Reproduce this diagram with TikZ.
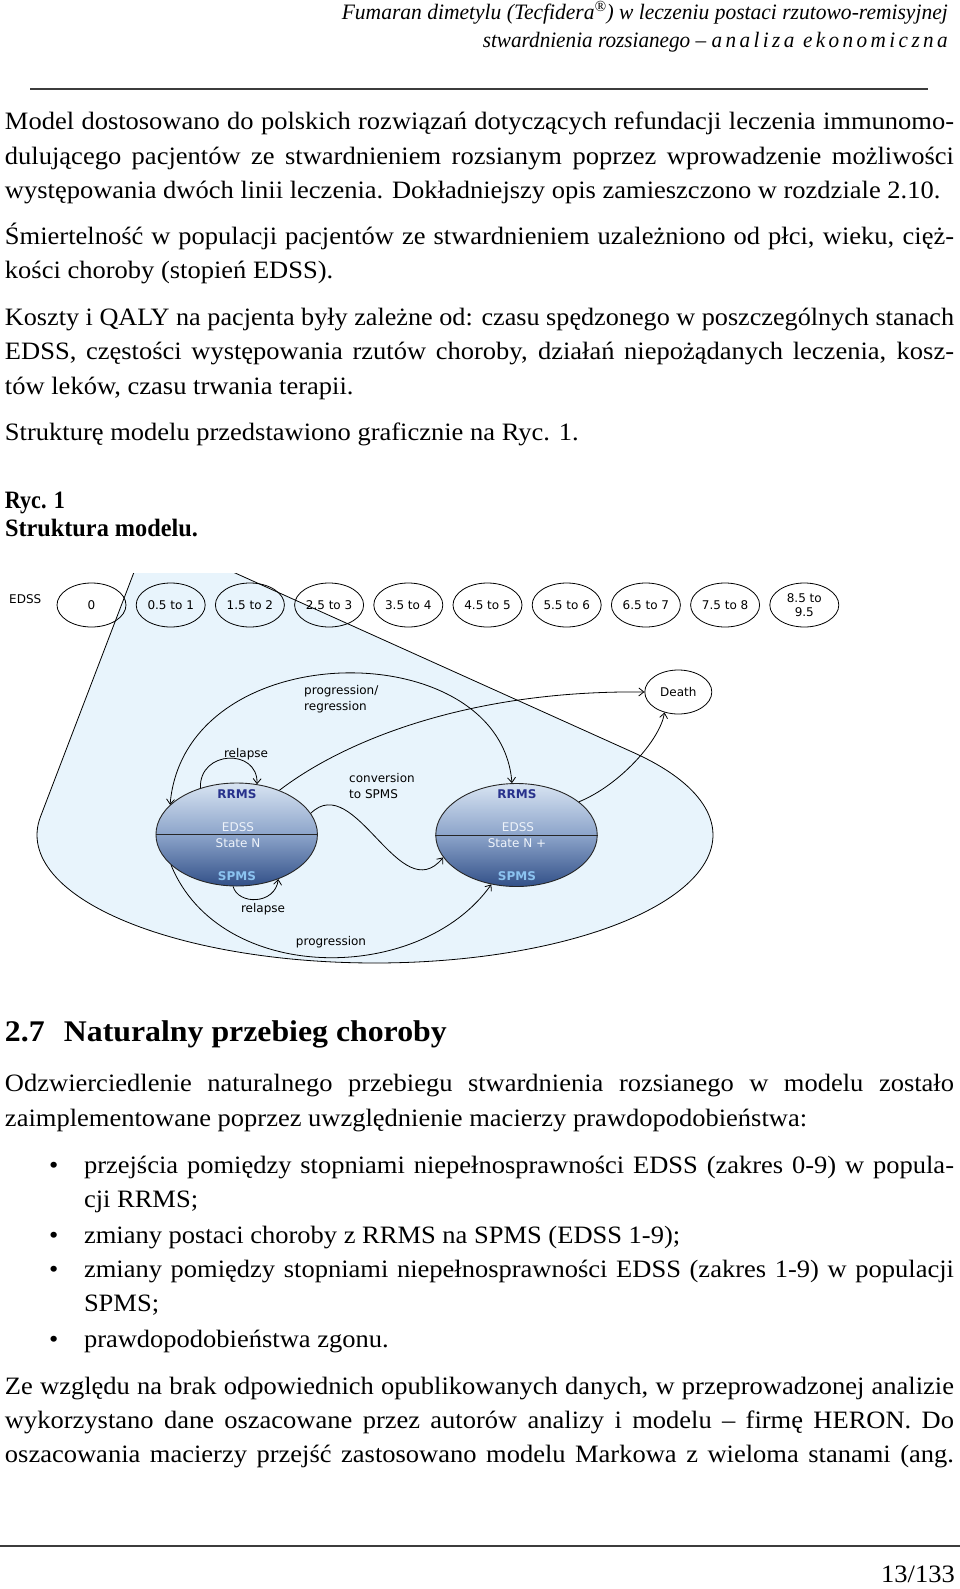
\documentclass[tikz,border=0pt]{standalone}
\usepackage{fontspec}
\usepackage{graphicx}
\setmainfont{Liberation Serif}[FakeStretch=1.06]
\newfontfamily\dfont{DejaVu Sans}
\usetikzlibrary{shapes.geometric,arrows.meta}
\definecolor{wedge}{RGB}{232,244,252}
\definecolor{stTop}{RGB}{216,228,242}
\definecolor{stMid}{RGB}{140,164,202}
\definecolor{stBot}{RGB}{50,80,136}
\definecolor{rrms}{RGB}{40,50,140}
\definecolor{spms}{RGB}{140,195,240}
\definecolor{stxt}{RGB}{238,243,250}
\definecolor{rulec}{RGB}{60,60,60}
\newcommand\bodyfont{\fontsize{25}{34}\selectfont}
\newlength\jw
\newcommand\jl[2]{\settowidth\jw{#2}\ifdim\jw>#1\relax\resizebox{#1}{\height}{#2}\else\makebox[#1][s]{#2}\fi}
\begin{document}
\begin{tikzpicture}[x=1pt,y=-1pt,
  body/.style={inner sep=0pt,outer sep=0pt,anchor=mid west,font=\bodyfont},
  lab/.style={inner sep=0pt,font=\dfont\fontsize{12}{15.5}\selectfont},
  edss/.style={draw,ellipse,minimum width=69pt,minimum height=44pt,inner sep=0pt,line width=0.8pt,font=\dfont\fontsize{12}{14}\selectfont,align=center},
  state/.style={ellipse,draw=black!85,line width=0.9pt,minimum width=161.5pt,minimum height=103pt,inner sep=0pt,top color=stTop,bottom color=stBot,middle color=stMid},
  conn/.style={line width=0.8pt,-{Straight Barb[length=5pt,width=8pt]}},
  conn2/.style={line width=0.8pt,{Straight Barb[length=5pt,width=8pt]}-{Straight Barb[length=5pt,width=8pt]}},
  stlab/.style={inner sep=0pt,font=\dfont\fontsize{12}{14}\selectfont},
]
\fill[white] (0,0) rectangle (960,1589);
\path[use as bounding box] (0,0) rectangle (960,1589);

% header
\node[inner sep=0pt,anchor=mid east] (h1) at (948,17) {\resizebox{606pt}{\height}{\fontsize{22}{24}\selectfont\itshape Fumaran dimetylu (Tecfidera\textsuperscript{®}) w leczeniu postaci rzutowo-remisyjnej}};
\node[inner sep=0pt,anchor=mid east] (h2) at (948,45.5) {\resizebox{465pt}{\height}{\fontsize{22}{24}\selectfont\itshape stwardnienia rozsianego – {\addfontfeatures{LetterSpace=17}analiza ekonomiczna}}};
\draw[rulec,line width=1.5pt] (30,89) coordinate (hr1) -- (928,89) coordinate (hr2);

% body text
\node[body] (t1) at (5,127.6) {\jl{949pt}{Model dostosowano do polskich rozwiązań dotyczących refundacji leczenia immunomo-}};
\node[body] (t2) at (5,162.1) {\jl{949pt}{dulującego pacjentów ze stwardnieniem rozsianym poprzez wprowadzenie możliwości}};
\node[body] (t3) at (5,196.6) {występowania dwóch linii leczenia. Dokładniejszy opis zamieszczono w rozdziale 2.10.};
\node[body] (t4) at (5,242.2) {\jl{949pt}{Śmiertelność w populacji pacjentów ze stwardnieniem uzależniono od płci, wieku, cięż-}};
\node[body] (t5) at (5,276.6) {kości choroby (stopień EDSS).};
\node[body] (t6) at (5,323.3) {\jl{949pt}{Koszty i QALY na pacjenta były zależne od: czasu spędzonego w poszczególnych stanach}};
\node[body] (t7) at (5,357.7) {\jl{949pt}{EDSS, częstości występowania rzutów choroby, działań niepożądanych leczenia, kosz-}};
\node[body] (t8) at (5,392.2) {tów leków, czasu trwania terapii.};
\node[body] (t9) at (5,437.8) {Strukturę modelu przedstawiono graficznie na Ryc. 1.};
\node[body] (t10) at (5,506.3) {\resizebox{60pt}{\height}{\bfseries Ryc. 1}};
\node[body] (t11) at (5,534.6) {\resizebox{193pt}{\height}{\bfseries Struktura modelu.}};

% ---------- diagram ----------
\coordinate (apex) at (148.6,534);
\begin{scope}
\clip (0,573) rectangle (960,1000);
\filldraw[fill=wedge,draw=black,line width=0.8pt,line join=round] (apex) -- plot[domain=188.24:-40.04,samples=140] ({375+338*cos(\x)},{835+128*sin(\x)}) -- cycle;
\end{scope}

\node[lab,anchor=west] (edsslab) at (9,599) {EDSS};
\foreach \i/\t in {0/0,1/0.5 to 1,2/1.5 to 2,3/2.5 to 3,4/3.5 to 4,5/4.5 to 5,6/5.5 to 6,7/6.5 to 7,8/7.5 to 8,9/{8.5 to\\9.5}}
  \node[edss] (e\i) at ({91.5+79.2*\i},605) {\t};

\node[edss,minimum width=67pt] (D) at (678.3,692) {Death};

\node[state] (L) at (236.7,834.5) {};
\draw[black!85,line width=0.9pt] (L.west) -- (L.east);
\node[state] (R) at (516.5,835) {};
\draw[black!85,line width=0.9pt] (R.west) -- (R.east);

\node[stlab,text=rrms,font=\dfont\bfseries\fontsize{12}{14}\selectfont] (Lr) at (237,794) {RRMS};
\node[stlab,text=stxt] (Le) at (238,827) {EDSS};
\node[stlab,text=stxt] (Ln) at (238,843) {State N};
\node[stlab,text=spms,font=\dfont\bfseries\fontsize{12}{14}\selectfont] (Ls) at (237,876) {SPMS};
\node[stlab,text=rrms,font=\dfont\bfseries\fontsize{12}{14}\selectfont] (Rr) at (517,794) {RRMS};
\node[stlab,text=stxt] (Re) at (518,827) {EDSS};
\node[stlab,text=stxt] (Rn) at (517,843) {State N +};
\node[stlab,text=spms,font=\dfont\bfseries\fontsize{12}{14}\selectfont] (Rs) at (517,876) {SPMS};

% labels
\node[lab,anchor=west,align=left] (pr) at (304,699) {progression/\\regression};
\node[lab] (rel1) at (246,754) {relapse};
\node[lab,anchor=west,align=left] (conv) at (349,786) {conversion\\to SPMS};
\node[lab] (rel2) at (263,909) {relapse};
\node[lab] (prog) at (331,942) {progression};

% arrows
\draw[conn] (L.128) .. controls (199,750) and (258,748) .. (L.68);
\draw[conn] (L.266) .. controls (238,905) and (275,905) .. (L.-47);
\draw[conn2] (L.156) .. controls (185,633) and (500,633) .. (R.95);
\draw[conn] (L.46) .. controls (345,740) and (470,690) .. (D.west);
\draw[conn] (R.28) .. controls (620,785) and (660,740) .. (D.-124);
\draw[conn] (L.16) .. controls (355,770) and (400,910) .. (R.197);
\draw[conn] (L.205) .. controls (220,985) and (420,985) .. (R.243);

% ---------- section ----------
\node[body] (s1) at (5,1039) {\fontsize{30}{34}\selectfont\bfseries\makebox[59pt][l]{2.7}Naturalny przebieg choroby};
\node[body] (u1) at (5,1089.6) {\jl{949pt}{Odzwierciedlenie naturalnego przebiegu stwardnienia rozsianego w modelu zostało}};
\node[body] (u2) at (5,1124.1) {zaimplementowane poprzez uwzględnienie macierzy prawdopodobieństwa:};

\node[body] (d1) at (49,1170.7) {•};
\node[body] (b1) at (84,1170.7) {\jl{870pt}{przejścia pomiędzy stopniami niepełnosprawności EDSS (zakres 0-9) w popula-}};
\node[body] (b1b) at (84,1205.2) {cji RRMS;};
\node[body] (d2) at (49,1240.7) {•};
\node[body] (b2) at (84,1240.7) {zmiany postaci choroby z RRMS na SPMS (EDSS 1-9);};
\node[body] (d3) at (49,1275.1) {•};
\node[body] (b3) at (84,1275.1) {\jl{870pt}{zmiany pomiędzy stopniami niepełnosprawności EDSS (zakres 1-9) w populacji}};
\node[body] (b3b) at (84,1309.6) {SPMS;};
\node[body] (d4) at (49,1345.1) {•};
\node[body] (b4) at (84,1345.1) {prawdopodobieństwa zgonu.};

\node[body] (v1) at (5,1391.7) {\jl{949pt}{Ze względu na brak odpowiednich opublikowanych danych, w przeprowadzonej analizie}};
\node[body] (v2) at (5,1426.2) {\jl{949pt}{wykorzystano dane oszacowane przez autorów analizy i modelu – firmę HERON. Do}};
\node[body] (v3) at (5,1460.6) {\jl{949pt}{oszacowania macierzy przejść zastosowano modelu Markowa z wieloma stanami (ang.}};

% footer
\draw[rulec,line width=1.5pt] (0,1546) coordinate (fr1) -- (960,1546) coordinate (fr2);
\node[inner sep=0pt,anchor=mid east,font=\bodyfont] (pg) at (955,1580) {13/133};
\end{tikzpicture}
\end{document}
